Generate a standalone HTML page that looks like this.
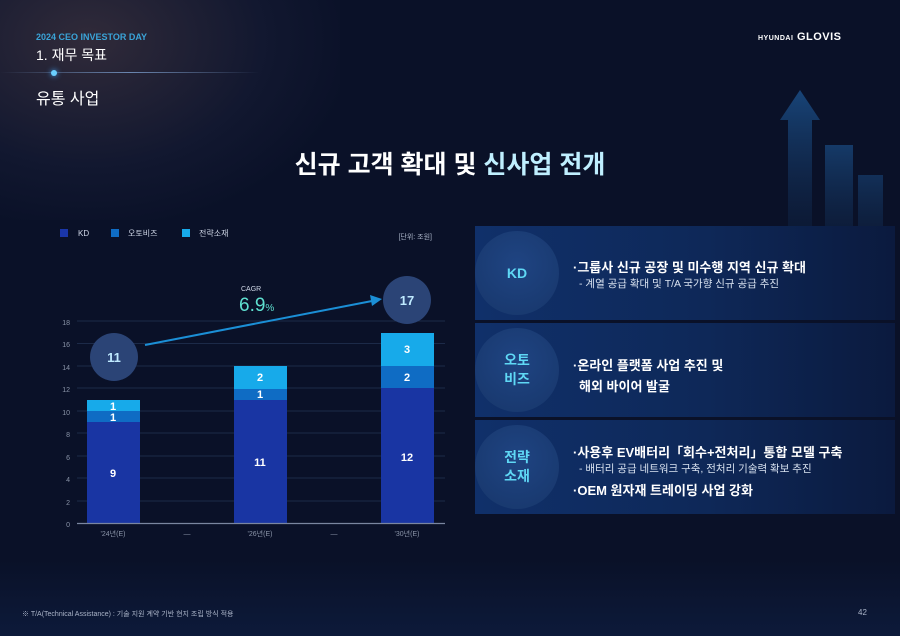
<!DOCTYPE html>
<html><head><meta charset="utf-8"><style>
*{margin:0;padding:0;box-sizing:border-box}
body{width:900px;height:636px;overflow:hidden;background:#0a1128;font-family:"Liberation Sans","Noto Sans CJK KR",sans-serif;color:#fff;position:relative}
.abs{position:absolute}
.row{position:absolute;left:475px;width:420px;height:94px;background:linear-gradient(90deg,#10306a 0%,#0e2858 55%,#0b1a3e 100%)}
.circ{position:absolute;left:0;top:5px;width:84px;height:84px;border-radius:50%;background:radial-gradient(circle at 50% 40%,#1f4482,#17366a);display:flex;align-items:center;justify-content:center;text-align:center;color:#5fd8f5;font-weight:bold;font-size:14px;line-height:19px}
.t1{font-size:13px;font-weight:bold;color:#fff;white-space:nowrap}
.t2{font-size:10.5px;color:#d8e2f0;white-space:nowrap;margin-left:6px}
</style></head><body>
<div class="abs" style="left:-80px;top:-80px;width:420px;height:300px;background:radial-gradient(ellipse at 40% 40%,rgba(120,90,90,.35),rgba(60,60,90,.15) 50%,transparent 75%)"></div>
<div class="abs" style="left:0;top:560px;width:900px;height:76px;background:linear-gradient(180deg,#0a1128,#0d1a3a)"></div>
<svg class="abs" style="left:780px;top:80px" width="120" height="240">
<defs><linearGradient id="g" x1="0" y1="0" x2="0" y2="1"><stop offset="0" stop-color="#1e5a9a" stop-opacity=".7"/><stop offset="1" stop-color="#0a1128" stop-opacity="0"/></linearGradient></defs>
<polygon points="20,10 40,40 32,40 32,240 8,240 8,40 0,40" fill="url(#g)"/>
<rect x="45" y="65" width="28" height="175" fill="url(#g)" opacity=".8"/>
<rect x="78" y="95" width="25" height="145" fill="url(#g)" opacity=".6"/>
</svg>
<div class="abs" style="left:36px;top:32px;font-size:9px;color:#3aa4d8;font-weight:bold">2024 CEO INVESTOR DAY</div>
<div class="abs" style="left:36px;top:45px;font-size:14px;color:#fff">1. 재무 목표</div>
<div class="abs" style="left:0;top:72px;width:260px;height:1px;background:linear-gradient(90deg,transparent,#6a86b0,transparent)"></div>
<div class="abs" style="left:51px;top:70px;width:6px;height:6px;border-radius:50%;background:#6ad0ff;box-shadow:0 0 6px #4af"></div>
<div class="abs" style="left:36px;top:85px;font-size:16px;color:#fff">유통 사업</div>
<div class="abs" style="left:758px;top:31px;font-size:11px;font-weight:bold;color:#fff;letter-spacing:.5px"><span style="font-size:7px">HYUNDAI</span> GLOVIS</div>
<div class="abs" style="left:0;width:900px;top:145px;text-align:center;font-size:25px;font-weight:bold;color:#fff">신규 고객 확대 및 <span style="color:#bfefff">신사업 전개</span></div>

<svg class="abs" style="left:0;top:0" width="470" height="560" font-family="Liberation Sans,Noto Sans CJK KR,sans-serif">
<rect x="60" y="229" width="8" height="8" fill="#1a36a8"/><text x="78" y="236" font-size="8" fill="#cfd6e6">KD</text>
<rect x="111" y="229" width="8" height="8" fill="#0f6cc4"/><text x="128" y="236" font-size="8" fill="#cfd6e6">오토비즈</text>
<rect x="182" y="229" width="8" height="8" fill="#17aaea"/><text x="199" y="236" font-size="8" fill="#cfd6e6">전략소재</text>
<text x="432" y="239" font-size="7" fill="#aab4c8" text-anchor="end">[단위: 조원]</text>
<g stroke="#1c2a48" stroke-width="1">
<line x1="77" x2="445" y1="321" y2="321"/><line x1="77" x2="445" y1="343.5" y2="343.5"/><line x1="77" x2="445" y1="366" y2="366"/><line x1="77" x2="445" y1="388" y2="388"/><line x1="77" x2="445" y1="411" y2="411"/><line x1="77" x2="445" y1="433" y2="433"/><line x1="77" x2="445" y1="456" y2="456"/><line x1="77" x2="445" y1="478" y2="478"/><line x1="77" x2="445" y1="501" y2="501"/>
</g>
<g font-size="7" fill="#8a94a8" text-anchor="end">
<text x="70" y="325">18</text><text x="70" y="347">16</text><text x="70" y="370">14</text><text x="70" y="392">12</text><text x="70" y="415">10</text><text x="70" y="437">8</text><text x="70" y="460">6</text><text x="70" y="482">4</text><text x="70" y="505">2</text><text x="70" y="527">0</text>
</g>
<rect x="87" y="422" width="53" height="101" fill="#1935a3"/><rect x="87" y="411" width="53" height="11" fill="#0f6cc4"/><rect x="87" y="400" width="53" height="11" fill="#17aaea"/>
<rect x="234" y="400" width="53" height="123" fill="#1935a3"/><rect x="234" y="389" width="53" height="11" fill="#0f6cc4"/><rect x="234" y="366" width="53" height="23" fill="#17aaea"/>
<rect x="381" y="388" width="53" height="135" fill="#1935a3"/><rect x="381" y="366" width="53" height="22" fill="#0f6cc4"/><rect x="381" y="333" width="53" height="33" fill="#17aaea"/>
<line x1="77" x2="445" y1="523.5" y2="523.5" stroke="#7a86a0" stroke-width="1.2"/>
<g font-size="11" font-weight="bold" fill="#fff" text-anchor="middle">
<text x="113" y="477">9</text><text x="113" y="421">1</text><text x="113" y="410">1</text>
<text x="260" y="466">11</text><text x="260" y="398">1</text><text x="260" y="381">2</text>
<text x="407" y="461">12</text><text x="407" y="381">2</text><text x="407" y="353">3</text>
</g>
<g font-size="7" fill="#8a94a8" text-anchor="middle">
<text x="113" y="536">'24년(E)</text><text x="187" y="536">—</text><text x="260" y="536">'26년(E)</text><text x="334" y="536">—</text><text x="407" y="536">'30년(E)</text>
</g>
<line x1="145" y1="345" x2="372" y2="301" stroke="#1b8fd6" stroke-width="2"/>
<polygon points="382,299 370,295 372,306" fill="#1b8fd6"/>
<circle cx="114" cy="357" r="24" fill="#2b4476"/><text x="114" y="362" font-size="13" font-weight="bold" fill="#bfeaff" text-anchor="middle">11</text>
<circle cx="407" cy="300" r="24" fill="#2b4476"/><text x="407" y="305" font-size="13" font-weight="bold" fill="#bfeaff" text-anchor="middle">17</text>
<text x="241" y="291" font-size="7" fill="#cfd6e6">CAGR</text>
<text x="239" y="311" font-size="19" fill="#5fe0d0">6.9<tspan font-size="10">%</tspan></text>
</svg>

<div class="row" style="top:226px"><div class="circ">KD</div>
<div class="abs" style="left:98px;top:31px"><div class="t1">·그룹사 신규 공장 및 미수행 지역 신규 확대</div><div class="t2">- 계열 공급 확대 및 T/A 국가향 신규 공급 추진</div></div></div>
<div class="row" style="top:323px"><div class="circ">오토<br>비즈</div>
<div class="abs" style="left:98px;top:32px"><div class="t1">·온라인 플랫폼 사업 추진 및</div><div class="t1" style="margin-left:6px;margin-top:2px">해외 바이어 발굴</div></div></div>
<div class="row" style="top:420px"><div class="circ">전략<br>소재</div>
<div class="abs" style="left:98px;top:22px"><div class="t1">·사용후 EV배터리「회수+전처리」통합 모델 구축</div><div class="t2">- 배터리 공급 네트워크 구축, 전처리 기술력 확보 추진</div><div class="t1" style="margin-top:4px">·OEM 원자재 트레이딩 사업 강화</div></div></div>

<div class="abs" style="left:22px;top:609px;font-size:7px;color:#aab4c8">※ T/A(Technical Assistance) : 기술 지원 계약 기반 현지 조립 방식 적용</div>
<div class="abs" style="left:858px;top:608px;font-size:8px;color:#aab4c8">42</div>
</body></html>
